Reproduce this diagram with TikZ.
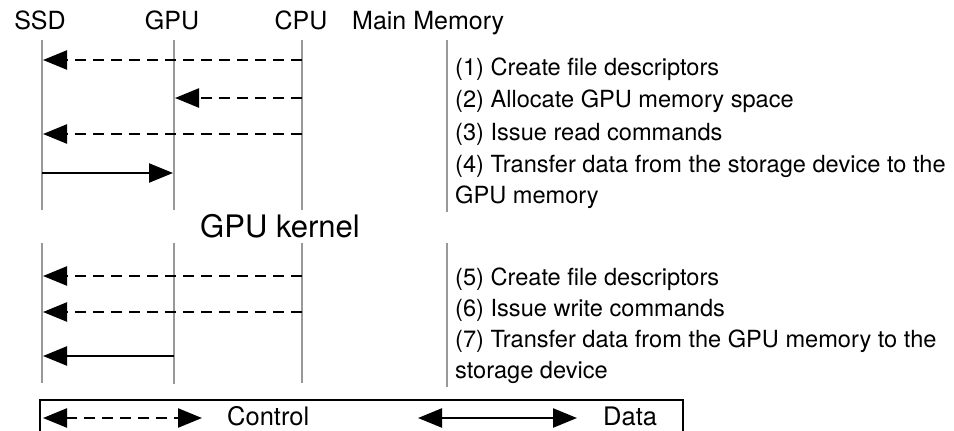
\documentclass[tikz,border=0pt]{standalone}
\usepackage{fontspec}
\setmainfont{TeX Gyre Heros}
\usetikzlibrary{arrows.meta}
\begin{document}
\begin{tikzpicture}[x=1pt,y=-1pt,
  lifeline/.style={draw=black!40, line width=2.2pt},
  bigtip/.tip={Triangle[length=24pt,width=19pt]},
  ctrlmsg/.style={line width=2.4pt, dash pattern=on 11pt off 7pt, -bigtip},
  datamsg/.style={line width=2.4pt, -bigtip},
  head/.style={font=\fontsize{25}{30}\selectfont, inner sep=0pt, anchor=base},
  stepnote/.style={font=\fontsize{23.6}{28}\selectfont, inner sep=0pt, anchor=base west},
  legendtext/.style={font=\fontsize{25.5}{30}\selectfont, inner sep=0pt, anchor=base west},
]
\useasboundingbox (0,0) rectangle (954,431);

% column headers
\node[head] (hssd) at (40,29) {SSD};
\node[head] (hgpu) at (172,29) {GPU};
\node[head] (hcpu) at (301,29) {CPU};
\node[head, anchor=base west] (hmem) at (352,29) {Main Memory};

% lifeline end points, read phase
\coordinate (ssdA) at (42,40);  \coordinate (ssdB) at (42,210);
\coordinate (gpuA) at (174,40); \coordinate (gpuB) at (174,210);
\coordinate (cpuA) at (302,40); \coordinate (cpuB) at (302,210);
\coordinate (memA) at (447,40); \coordinate (memB) at (447,212);
% lifeline end points, write phase
\coordinate (ssdC) at (42,243);  \coordinate (ssdD) at (42,383);
\coordinate (gpuC) at (174,243); \coordinate (gpuD) at (174,384);
\coordinate (cpuC) at (302,243); \coordinate (cpuD) at (302,383);
\coordinate (memC) at (447,243); \coordinate (memD) at (447,387);

\foreach \a/\b in {ssdA/ssdB,gpuA/gpuB,cpuA/cpuB,memA/memB,
                   ssdC/ssdD,gpuC/gpuD,cpuC/cpuD,memC/memD}
  \draw[lifeline] (\a) -- (\b);

% read phase messages
\coordinate (m1s) at (302,60);  \coordinate (m1e) at (43,60);
\coordinate (m2s) at (302,98);  \coordinate (m2e) at (175,98);
\coordinate (m3s) at (302,134); \coordinate (m3e) at (43,134);
\coordinate (m4s) at (42,173);  \coordinate (m4e) at (173,173);
\draw[ctrlmsg] (m1s) -- (m1e);
\draw[ctrlmsg] (m2s) -- (m2e);
\draw[ctrlmsg] (m3s) -- (m3e);
\draw[datamsg] (m4s) -- (m4e);

\node[stepnote] (s1) at (455,75)  {(1) Create file descriptors};
\node[stepnote] (s2) at (455,107) {(2) Allocate GPU memory space};
\node[stepnote] (s3) at (455,140) {(3) Issue read commands};
\node[stepnote] (s4) at (455,172) {(4) Transfer data from the storage device to the};
\node[stepnote] (s4b) at (455,203) {GPU memory};

% kernel execution
\node[font=\fontsize{31}{36}\selectfont, inner sep=0pt, anchor=base] (kern) at (280,237) {GPU kernel};

% write phase messages
\coordinate (m5s) at (302,276); \coordinate (m5e) at (43,276);
\coordinate (m6s) at (302,312); \coordinate (m6e) at (43,312);
\coordinate (m7s) at (174,356); \coordinate (m7e) at (43,356);
\draw[ctrlmsg] (m5s) -- (m5e);
\draw[ctrlmsg] (m6s) -- (m6e);
\draw[datamsg] (m7s) -- (m7e);

\node[stepnote] (s5) at (455,285) {(5) Create file descriptors};
\node[stepnote] (s6) at (455,316) {(6) Issue write commands};
\node[stepnote] (s7) at (455,347) {(7) Transfer data from the GPU memory to the};
\node[stepnote] (s7b) at (455,378) {storage device};

% legend
\draw[line width=2.2pt] (40,440) -- (40,400) -- (683,400) -- (683,440);
\coordinate (lc1) at (43,418);  \coordinate (lc2) at (202,418);
\coordinate (ld1) at (418,418); \coordinate (ld2) at (577,418);
\draw[ctrlmsg, bigtip-bigtip] (lc1) -- (lc2);
\draw[datamsg, bigtip-bigtip] (ld1) -- (ld2);
\node[legendtext] (lctrl) at (227,425) {Control};
\node[legendtext] (ldata) at (603,425) {Data};
\end{tikzpicture}
\end{document}
